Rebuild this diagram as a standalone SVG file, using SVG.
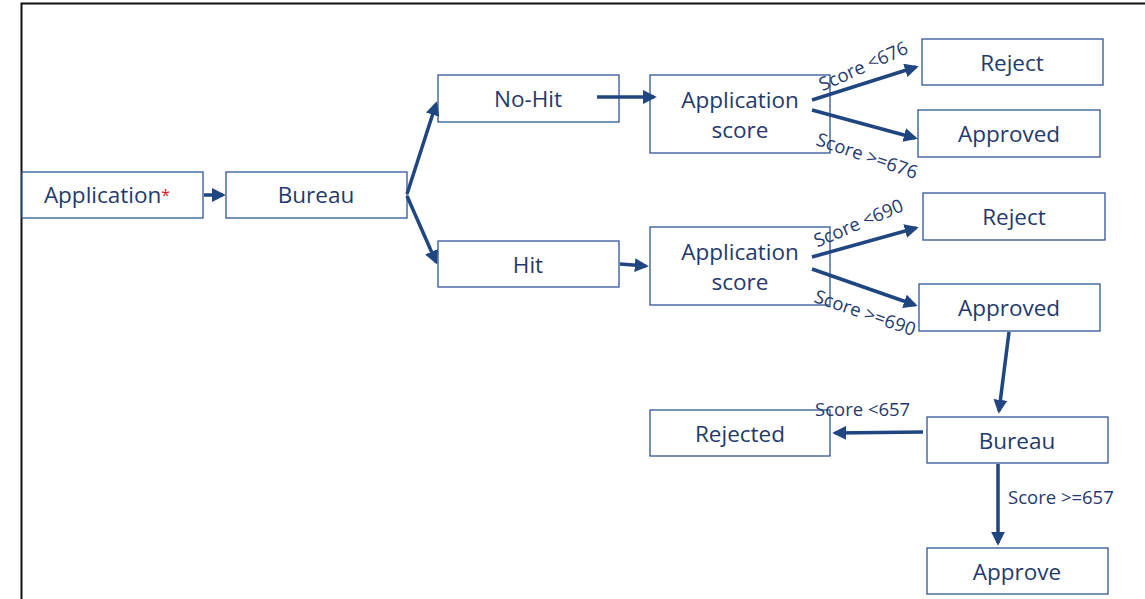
<svg xmlns="http://www.w3.org/2000/svg" width="1145" height="599" viewBox="0 0 1145 599">
<style>
.box{fill:#fff;stroke:#2F5597;stroke-width:1.3}
.t{font-family:"Open Sans","Liberation Sans",sans-serif;font-size:22.5px;fill:#1F3A6E;text-anchor:middle}
.lbl{font-family:"Open Sans","Liberation Sans",sans-serif;font-size:18.5px;fill:#1F3A6E}
.c{stroke:#1F4680;stroke-width:3.5;fill:none;marker-end:url(#ah)}
</style>
<defs>
<marker id="ah" markerWidth="4" markerHeight="4" refX="3.2" refY="2" orient="auto" markerUnits="strokeWidth">
<path d="M0,0 L4,2 L0,4 z" fill="#1F4680"/>
</marker>
</defs>
<rect width="1145" height="599" fill="#fff"/>
<path d="M21.5,599 V3.5 H1145" fill="none" stroke="#111" stroke-width="2"/>
<g id="n-application"><rect class="box" x="22" y="172" width="181" height="46"/><text class="t" x="107" y="203">Application<tspan fill="#E02020" font-size="16" dy="-2">*</tspan></text></g>
<g id="n-bureau"><rect class="box" x="226" y="172" width="181" height="46"/><text class="t" x="316" y="203">Bureau</text></g>
<g id="n-nohit"><rect class="box" x="438" y="75" width="181" height="47"/><text class="t" x="528" y="107">No-Hit</text></g>
<g id="n-hit"><rect class="box" x="438" y="241" width="181" height="46"/><text class="t" x="528" y="273">Hit</text></g>
<g id="n-appscore1"><rect class="box" x="650" y="75" width="180" height="78"/><text class="t" x="740" y="108">Application</text><text class="t" x="740" y="138">score</text></g>
<g id="n-appscore2"><rect class="box" x="650" y="227" width="180" height="78"/><text class="t" x="740" y="260">Application</text><text class="t" x="740" y="290">score</text></g>
<g id="n-reject1"><rect class="box" x="922" y="39" width="181" height="46"/><text class="t" x="1012" y="71">Reject</text></g>
<g id="n-approved1"><rect class="box" x="918" y="110" width="182" height="47"/><text class="t" x="1009" y="142">Approved</text></g>
<g id="n-reject2"><rect class="box" x="923" y="193" width="182" height="47"/><text class="t" x="1014" y="225">Reject</text></g>
<g id="n-approved2"><rect class="box" x="919" y="284" width="181" height="47"/><text class="t" x="1009" y="316">Approved</text></g>
<g id="n-rejected"><rect class="box" x="650" y="410" width="180" height="46"/><text class="t" x="740" y="442">Rejected</text></g>
<g id="n-bureau2"><rect class="box" x="927" y="417" width="181" height="46"/><text class="t" x="1017" y="449">Bureau</text></g>
<g id="n-approve"><rect class="box" x="927" y="548" width="181" height="46"/><text class="t" x="1017" y="580">Approve</text></g>
<g id="connectors">
<line class="c" x1="204" y1="195" x2="223" y2="195"/>
<line class="c" x1="407" y1="194" x2="436" y2="104"/>
<line class="c" x1="407" y1="196" x2="436" y2="262"/>
<line class="c" x1="597" y1="97" x2="654" y2="97"/>
<line class="c" x1="620" y1="264" x2="646" y2="266"/>
<line class="c" x1="812" y1="100" x2="916" y2="67"/>
<line class="c" x1="812" y1="110" x2="915" y2="138"/>
<line class="c" x1="812" y1="257" x2="916" y2="228"/>
<line class="c" x1="812" y1="269" x2="915" y2="305"/>
<line class="c" x1="1009" y1="332" x2="999" y2="411"/>
<line class="c" x1="923" y1="432" x2="835" y2="433"/>
<line class="c" x1="998" y1="464" x2="998" y2="543"/>
</g>
<g id="labels">
<text class="lbl" text-anchor="middle" transform="translate(866,72) rotate(-24)">Score &lt;676</text>
<text class="lbl" text-anchor="middle" transform="translate(865,162) rotate(19)">Score &gt;=676</text>
<text class="lbl" text-anchor="middle" transform="translate(861,229) rotate(-23)">Score &lt;690</text>
<text class="lbl" text-anchor="middle" transform="translate(863,319) rotate(19)">Score &gt;=690</text>
<text class="lbl" x="815" y="416">Score &lt;657</text>
<text class="lbl" x="1008" y="504">Score &gt;=657</text>
</g>
</svg>
